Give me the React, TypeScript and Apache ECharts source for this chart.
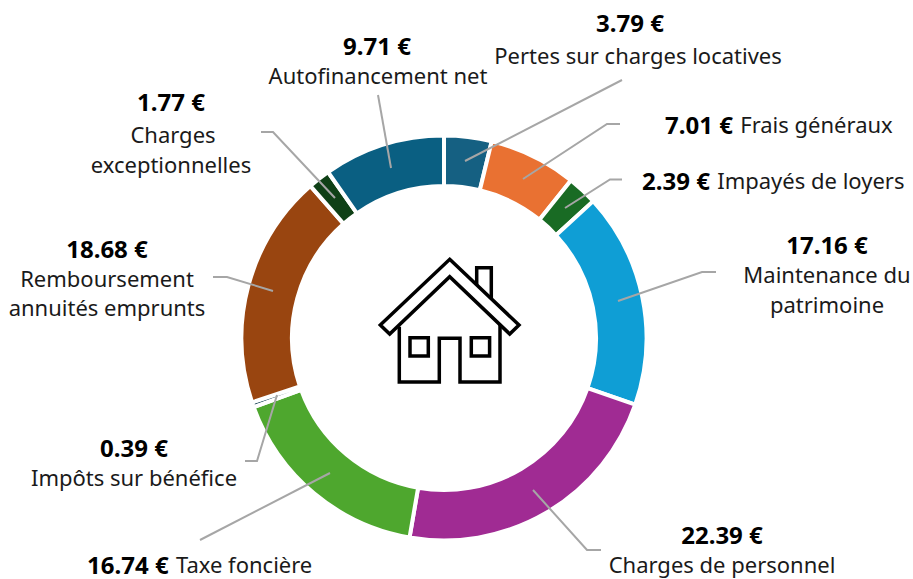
import React, { useEffect, useRef } from "react";
import * as echarts from "echarts";

const names = ["Pertes sur charges locatives", "Frais généraux", "Impayés de loyers", "Maintenance du patrimoine", "Charges de personnel", "Taxe foncière", "Impôts sur bénéfice", "Remboursement annuités emprunts", "Charges exceptionnelles", "Autofinancement net"];
const values = [3.79, 7.01, 2.39, 17.16, 22.39, 16.74, 0.39, 18.68, 1.77, 9.71];
const colors = ["#156082", "#E97132", "#196B24", "#0F9ED5", "#A02B93", "#4EA72E", "#0D3A4E", "#994510", "#0F4016", "#0A5F82"];

const FONT = "Noto Sans";
const FS = 22;
const BS = 24;
const money = (i: number) => `${values[i].toFixed(2)} €`;

const leaders: number[][][] = [
  [[465, 161], [622, 80]],
  [[523, 179], [607, 124], [620, 124]],
  [[565, 208], [610, 179.5], [622, 179.5]],
  [[618, 301], [702, 272], [716, 272]],
  [[533, 490], [587, 550], [601, 550]],
  [[330, 473], [200, 540]],
  [[277, 395], [257, 461], [245, 461]],
  [[273, 291], [227, 277], [213, 277]],
  [[335, 198], [273, 132], [261, 132]],
  [[391, 168], [378, 95]],
];

const boldAt = (i: number, x: number, y: number) => ({
  type: "text", x, y,
  style: { text: money(i), fontFamily: FONT, fontWeight: "bold", fontSize: BS, fill: "#000", align: "center", verticalAlign: "middle" },
});
const nameAt = (t: string, x: number, y: number) => ({
  type: "text", x, y,
  style: { text: t, fontFamily: FONT, fontSize: FS, fill: "#1a1a1a", align: "center", verticalAlign: "middle" },
});
const inlineAt = (i: number, x: number, y: number) => ({
  type: "text", x, y,
  style: {
    text: `{b|${money(i)}} {n|${names[i]}}`, align: "left", verticalAlign: "middle",
    rich: {
      b: { fontFamily: FONT, fontWeight: "bold", fontSize: BS, fill: "#000", lineHeight: 20 },
      n: { fontFamily: FONT, fontSize: FS, fill: "#1a1a1a", lineHeight: 20, padding: [0, 0, 0, 4] },
    },
  },
});

const labels = [
  boldAt(0, 630, 22), nameAt(names[0], 638, 55),
  inlineAt(1, 665, 124),
  inlineAt(2, 642, 180),
  boldAt(3, 827, 244), nameAt("Maintenance du", 827, 274), nameAt("patrimoine", 827, 304),
  boldAt(4, 722, 534), nameAt(names[4], 722, 564),
  inlineAt(5, 87, 564),
  boldAt(6, 134, 447), nameAt(names[6], 134, 477),
  boldAt(7, 107, 248), nameAt("Remboursement", 107, 278), nameAt("annuités emprunts", 107, 307),
  boldAt(8, 171, 101), nameAt("Charges", 173, 134), nameAt("exceptionnelles", 171, 164),
  boldAt(9, 377, 45), nameAt(names[9], 378, 75),
];

const houseStroke = { fill: "none", stroke: "#000", lineWidth: 3.5, lineJoin: "miter" };
const poly = (points: number[][]) => ({ type: "polyline", shape: { points }, style: houseStroke, z: 20 });
const house = [
  poly([[476.7, 285], [476.7, 267.7], [491.3, 267.7], [491.3, 298.3]]),
  { type: "polygon", shape: { points: [[449.7, 259.3], [519, 325], [509.7, 334], [449.7, 276.7], [389.7, 334], [380.3, 325]] }, style: houseStroke, z: 20 },
  poly([[399.3, 326.7], [399.3, 382], [439.3, 382], [439.3, 338.3], [460, 338.3], [460, 382], [500, 382], [500, 325]]),
  { type: "rect", shape: { x: 410, y: 337.7, width: 18.3, height: 18.3 }, style: houseStroke, z: 20 },
  { type: "rect", shape: { x: 471.3, y: 337.7, width: 18.3, height: 18.3 }, style: houseStroke, z: 20 },
];

export default function App() {
  const ref = useRef<HTMLDivElement>(null);
  useEffect(() => {
    const chart = echarts.init(ref.current!, undefined, { renderer: "svg" });
    chart.setOption({
      animation: false,
      backgroundColor: "#fff",
      series: [{
        type: "pie",
        center: [444, 338],
        radius: [152, 202.5],
        startAngle: 90,
        clockwise: true,
        label: { show: false },
        labelLine: { show: false },
        itemStyle: { borderColor: "#fff", borderWidth: 4 },
        emphasis: { disabled: true },
        data: values.map((value, i) => ({ value, name: names[i], itemStyle: { color: colors[i] } })),
      }],
      graphic: [
        ...leaders.map((points) => ({ type: "polyline", shape: { points }, style: { fill: "none", stroke: "#A6A6A6", lineWidth: 2 }, z: 10 })),
        ...labels.map((l) => ({ ...l, z: 15 })),
        ...house,
      ],
    });
    return () => chart.dispose();
  }, []);
  return <div ref={ref} style={{ position: "absolute", left: 0, top: 0, width: 913, height: 579 }} />;
}
